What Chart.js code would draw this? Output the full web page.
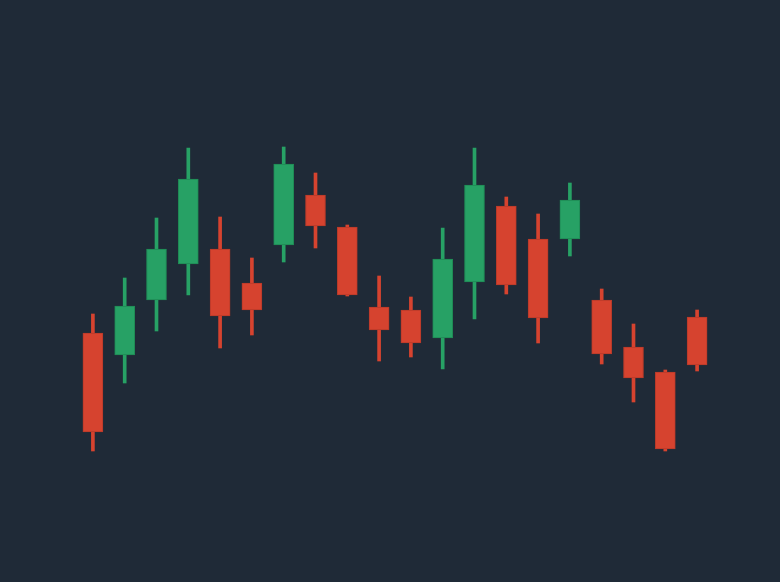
<!DOCTYPE html>
<html>
<head>
<meta charset="utf-8">
<script src="https://cdn.jsdelivr.net/npm/chart.js@4"></script>
<style>
  html, body { margin: 0; padding: 0; background: #1f2a37; }
  #wrap { width: 780px; height: 582px; }
</style>
</head>
<body>
<div id="wrap"><canvas id="candles"></canvas></div>
<script>
const days = ["D1","D2","D3","D4","D5","D6","D7","D8","D9","D10","D11","D12","D13","D14","D15","D16","D17","D18","D19","D20"];
const openV  = [104.9, 102.7, 108.2, 111.8, 113.3, 109.9, 113.7, 118.7, 115.5, 107.5, 107.2, 104.4, 110.0, 117.6, 114.3, 114.3, 108.2, 103.5, 101.0, 106.5];
const highV  = [106.8, 110.4, 116.4, 123.4, 116.5, 112.4, 123.5, 120.9, 115.7, 110.6, 108.5, 115.4, 123.4, 118.5, 116.8, 119.9, 109.3, 105.8, 101.2, 107.2];
const lowV   = [93.1,  99.9, 105.1, 108.7, 103.4, 104.7, 112.0, 113.4, 108.6, 102.1, 102.5, 101.3, 106.3, 108.8, 103.9, 112.6, 101.8,  98.0,  93.1, 101.1];
const closeV = [95.0, 107.6, 113.3, 120.3, 106.6, 107.2, 121.8, 115.6, 108.7, 105.2, 103.9, 112.3, 119.7, 109.7, 106.4, 118.2, 102.8, 100.4,  93.3, 101.7];

const UP = "#27a165", DOWN = "#d6432f";
const UP_EDGE = "#1f8a55", DOWN_EDGE = "#b83a2a";

const isUp = closeV.map((c, i) => c >= openV[i]);
const fill = isUp.map(u => u ? UP : DOWN);
const edge = isUp.map(u => u ? UP_EDGE : DOWN_EDGE);

const ctx = document.getElementById("candles").getContext("2d");
new Chart(ctx, {
  type: "bar",
  data: {
    labels: days,
    datasets: [
      {
        label: "Body",
        data: openV.map((o, i) => [o, closeV[i]]),
        backgroundColor: fill,
        borderColor: edge,
        borderWidth: 1,
        borderSkipped: false,
        barThickness: 20,
        grouped: false,
        order: 1,
      },
      {
        label: "Wick",
        data: lowV.map((l, i) => [l, highV[i]]),
        backgroundColor: fill,
        borderWidth: 0,
        barThickness: 3,
        grouped: false,
        order: 2,
      },
    ],
  },
  options: {
    responsive: true,
    maintainAspectRatio: false,
    animation: false,
    layout: { padding: { left: 77, right: 67, top: 0, bottom: 0 } },
    plugins: { legend: { display: false }, tooltip: { enabled: false } },
    scales: {
      x: { display: false, offset: true },
      y: { display: false, min: 80, max: 138.2 },
    },
  },
});
</script>
</body>
</html>
